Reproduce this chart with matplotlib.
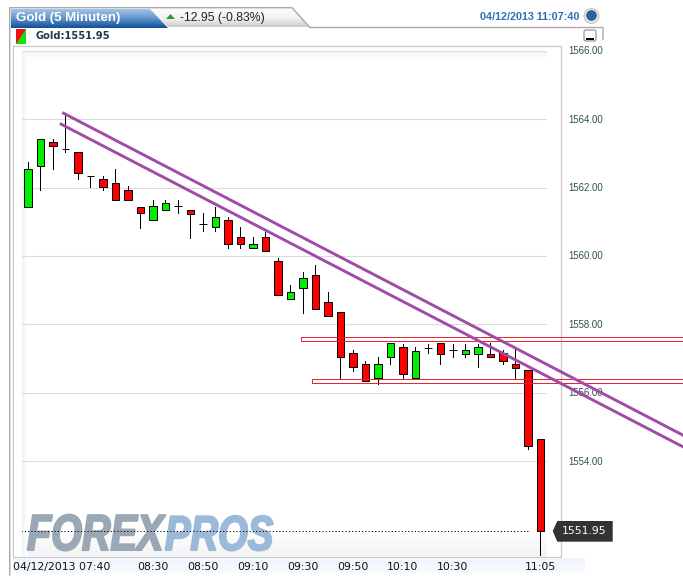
import numpy as np
import matplotlib
matplotlib.use("Agg")
import matplotlib.pyplot as plt
import matplotlib.patheffects as pe
from matplotlib.colors import LinearSegmentedColormap
from matplotlib.patches import Polygon, Rectangle, Circle, FancyBboxPatch
from matplotlib.transforms import Affine2D, ScaledTranslation

# Candles, 5 minute bars
opens = [1561.43, 1562.64, 1563.33, 1563.12, 1563.04, 1562.33, 1562.25, 1562.13, 1561.92, 1561.43,
         1561.05, 1561.34, 1561.46, 1561.34, 1560.94, 1560.84, 1561.05, 1560.55, 1560.25, 1560.55,
         1559.85, 1558.74, 1559.06, 1559.44, 1558.65, 1558.36, 1557.16, 1556.84, 1556.44, 1557.04,
         1557.33, 1556.44, 1557.30, 1557.45, 1557.25, 1557.15, 1557.15, 1557.15, 1557.16, 1556.84,
         1556.66, 1554.64]
highs = [1562.74, 1563.44, 1563.44, 1564.18, 1563.04, 1562.33, 1562.34, 1562.55, 1562.04, 1561.43,
         1561.64, 1561.64, 1561.64, 1561.34, 1561.25, 1561.45, 1561.13, 1560.84, 1560.55, 1560.71,
         1559.94, 1559.15, 1559.54, 1559.74, 1558.95, 1558.36, 1557.25, 1556.94, 1557.04, 1557.45,
         1557.44, 1557.33, 1557.43, 1557.45, 1557.44, 1557.44, 1557.43, 1557.45, 1557.25, 1557.28,
         1556.66, 1554.64]
lows = [1561.43, 1561.94, 1562.55, 1563.04, 1562.25, 1562.03, 1561.93, 1561.63, 1561.63, 1560.83,
        1561.05, 1561.34, 1561.25, 1560.54, 1560.74, 1560.74, 1560.25, 1560.25, 1560.25, 1560.14,
        1558.85, 1558.74, 1558.35, 1558.44, 1558.24, 1556.44, 1556.65, 1556.34, 1556.25, 1556.84,
        1556.44, 1556.44, 1557.16, 1556.85, 1557.04, 1557.04, 1556.75, 1557.04, 1556.84, 1556.44,
        1554.36, 1551.26]
closes = [1562.54, 1563.44, 1563.23, 1563.12, 1562.44, 1562.33, 1562.03, 1561.63, 1561.63, 1561.25,
          1561.46, 1561.54, 1561.46, 1561.24, 1560.94, 1561.13, 1560.35, 1560.35, 1560.35, 1560.14,
          1558.85, 1558.94, 1559.35, 1558.44, 1558.24, 1557.04, 1556.75, 1556.34, 1556.84, 1557.45,
          1556.54, 1557.23, 1557.30, 1557.15, 1557.25, 1557.25, 1557.33, 1557.04, 1556.94, 1556.74,
          1554.45, 1551.95]

# Axis ticks
price_ticks = [1554, 1556, 1558, 1560, 1562, 1564, 1566]
time_ticks = [0, 10, 14, 18, 22, 26, 30, 34, 41]
time_labels = ["04/12/2013 07:40", "08:30", "08:50", "09:10", "09:30", "09:50", "10:10", "10:30", "11:05"]

# Trend lines and the two horizontal bands
trend_upper_x = [2.86, 52.37]
trend_upper_y = [1564.18, 1554.77]
trend_lower_x = [2.67, 52.37]
trend_lower_y = [1563.86, 1554.43]
band_upper = [21.84, 1557.51, 1557.63]
band_lower = [22.72, 1556.28, 1556.40]
band_end = 52.6
last_price = 1551.95

W, H = 683, 584


class TallText(pe.AbstractPathEffect):
    # stretches a text upward from its baseline, the logo lettering is tall and narrow
    def __init__(self, factor, baseline, weight):
        super().__init__()
        self.factor = factor
        self.baseline = baseline
        self.weight = weight

    def draw_path(self, renderer, gc, tpath, affine, rgbFace=None):
        stretch = Affine2D().translate(0, -self.baseline).scale(1, self.factor).translate(0, self.baseline)
        gc0 = renderer.new_gc()
        gc0.copy_properties(gc)
        gc0.set_linewidth(self.weight)
        gc0.set_foreground(rgbFace)
        renderer.draw_path(gc0, tpath, affine + stretch, rgbFace)
        gc0.restore()


def gradient(ax, extent, colors, vertical=True, clip=None, zorder=1):
    # extent is left, right, top, bottom in pixels
    cmap = LinearSegmentedColormap.from_list("g", colors)
    values = np.linspace(0, 1, 64)
    values = values.reshape(-1, 1) if vertical else values.reshape(1, -1)
    left, right, top, bottom = extent
    im = ax.imshow(values, cmap=cmap, extent=(left, right, bottom, top), origin="upper",
                   aspect="auto", zorder=zorder, interpolation="bilinear")
    if clip is not None:
        patch = Polygon(clip, transform=ax.transData, fc="none", ec="none")
        ax.add_patch(patch)
        im.set_clip_path(patch)


fig = plt.figure(figsize=(W / 100, H / 100), dpi=100, facecolor="white")

# Page furniture is drawn in pixel coordinates on a full size axes
page = fig.add_axes([0, 0, 1, 1], zorder=0)
page.axis("off")

gray_tab = [(150, 9), (292, 9), (310, 27), (168, 27)]
gradient(page, (150, 310, 9, 27), ["#fbfbfb", "#f2f2f2", "#cdcdcd"], clip=gray_tab)
blue_tab = [(11, 9), (150, 9), (168, 28), (11, 28)]
gradient(page, (11, 168, 9, 28), ["#a4c3e4", "#5f94cc", "#104f96"], clip=blue_tab)

page.plot([9.7, 9.7, 292, 310, 603, 603], [575, 7.7, 7.7, 27.5, 27.5, 39], color="#a9a9a9", lw=1.0)
page.add_patch(Rectangle((12.7, 45.5), 548.6, 511.8, fc="white", ec="#c9c9c9", lw=0.9, zorder=1))
gradient(page, (13, 585, 558, 573), ["#f0f5fd", "#f8fafe"])

# Soft shading along the plot edges
gradient(page, (22, 547, 51, 60), ["#f3f3f3", "#ffffff"], zorder=2)
gradient(page, (22, 547, 530, 557), ["#ffffff", "#f3f3f3"], zorder=2)
gradient(page, (22, 28, 51, 557), ["#f3f3f3", "#ffffff"], vertical=False, zorder=2)

page.text(16, 18.5, "Gold (5 Minuten)", color="white", fontsize=9.5, fontweight="bold",
          family="Liberation Sans", va="center", zorder=3)
page.add_patch(Polygon([(166, 19), (175, 19), (170.5, 14)], fc="#2e9a35", ec="none", zorder=3))
page.text(180, 18, "-12.95 (-0.83%)", color="#222222", fontsize=8.8,
          family="Liberation Sans", va="center", zorder=3)
page.text(480, 17.5, "04/12/2013 11:07:40", color="#2f72b5", fontsize=7.8, fontweight="bold",
          family="Liberation Sans", va="center", zorder=3)

# Round button and minimise button
page.add_patch(Circle((591.5, 16), 7.5, fc="#e4e4e4", ec="#c4c4c4", lw=0.7, zorder=3))
page.add_patch(Circle((591.5, 15.5), 4.8, fc="#2c62a6", ec="#1d4477", lw=0.5, zorder=4))
page.add_patch(FancyBboxPatch((584, 30), 12, 11, boxstyle="round,pad=0,rounding_size=2",
                              fc="white", ec="#8a8a8a", lw=0.8, zorder=3))
page.add_patch(Rectangle((586, 38), 8, 2, fc="black", ec="none", zorder=4))

# Legend swatch
page.add_patch(Rectangle((16, 29), 10, 15, fc="#12e012", ec="none", zorder=3))
page.add_patch(Polygon([(16, 29), (26, 29), (16, 44)], fc="#f01010", ec="none", zorder=3))
page.text(36, 36.3, "Gold:1551.95", color="#1d3a44", fontsize=7.1, fontweight="bold",
          family="DejaVu Sans", va="center", zorder=3)

# Watermark
logo_effect = [TallText(1.28, H - 550, 1.5)]
page.text(27, 550, "FOREX", color="#9aa8b5", fontsize=28.5, fontweight="bold", style="italic",
          family="Liberation Sans", va="baseline", zorder=3, path_effects=logo_effect)
page.text(165, 550, "PROS", color="#9bb9d9", fontsize=27.5, fontweight="bold", style="italic",
          family="Liberation Sans", va="baseline", zorder=3, path_effects=logo_effect)

# Last price tag
page.add_patch(Polygon([(552.7, 531), (557.3, 521), (612.7, 521), (612.7, 541.7), (557.3, 541.7)],
                       fc="#333333", ec="none", zorder=3))
page.text(584.5, 531, f"{last_price:.2f}", color="white", fontsize=7.8, family="DejaVu Sans",
          ha="center", va="center", zorder=4)

page.set_xlim(0, W)
page.set_ylim(H, 0)

# Price chart
ax = fig.add_axes([22 / W, 1 - 557.3 / H, (546.7 - 22) / W, (557.3 - 51) / H], zorder=1)
ax.patch.set_alpha(0)
for spine in ax.spines.values():
    spine.set_visible(False)

x = np.arange(len(opens))
opens_a = np.array(opens)
closes_a = np.array(closes)
ax.vlines(x, lows, highs, color="black", lw=0.7, zorder=3, antialiased=False)
colors = ["black" if c == o else ("#00ee00" if c > o else "#ff0000") for o, c in zip(opens, closes)]
ax.bar(x, closes_a - opens_a, bottom=opens_a, width=0.6, color=colors, edgecolor="black",
       linewidth=0.7, zorder=4)

ax.hlines(last_price, -0.5, 40.1, color="black", lw=0.7, linestyles=(0, (1.2, 2.2)), zorder=2.5)

for left, low, high in [band_upper, band_lower]:
    ax.add_patch(Rectangle((left, low), band_end - left, high - low, fc="none", ec="#e8202c",
                           lw=0.7, clip_on=False, zorder=5))

ax.plot(trend_upper_x, trend_upper_y, color="#a24ba6", lw=2.1, clip_on=False, zorder=6)
ax.plot(trend_lower_x, trend_lower_y, color="#a24ba6", lw=2.1, clip_on=False, zorder=6)

ax.set_xlim(-0.46, 41.51)
ax.set_ylim(1551.19, 1566)
ax.set_yticks(price_ticks)
ax.set_yticklabels([f"{p:.2f}" for p in price_ticks], fontsize=6.9, color="#2f4f4f", family="Liberation Sans")
ax.yaxis.tick_right()
ax.tick_params(axis="y", length=0, pad=15.5)
for label in ax.get_yticklabels():
    label.set_transform(label.get_transform() + ScaledTranslation(0, 0.7 / 100, fig.dpi_scale_trans))
ax.grid(axis="y", color="#dcdcdc", lw=0.8)
ax.set_axisbelow(True)

ax.set_xticks(time_ticks)
ax.set_xticklabels(time_labels, fontsize=7.8, color="#111111", family="DejaVu Sans")
ax.tick_params(axis="x", length=0, pad=3.2)
first = ax.get_xticklabels()[0]
first.set_ha("left")
first.set_transform(first.get_transform() + ScaledTranslation(-14.3 / 100, 0, fig.dpi_scale_trans))

fig.savefig("out.png", dpi=100)
